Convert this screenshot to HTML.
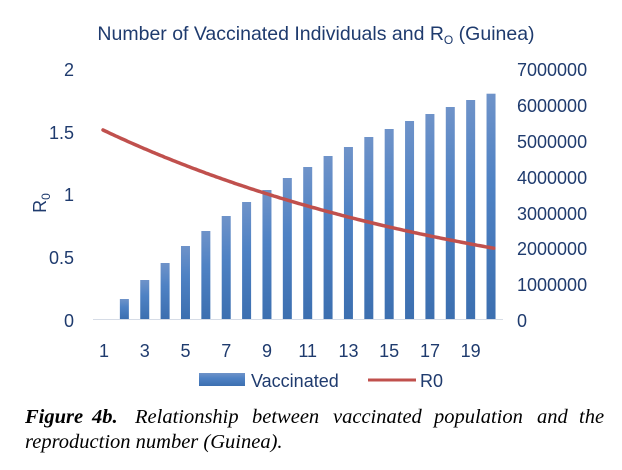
<!DOCTYPE html>
<html><head><meta charset="utf-8"><style>
body{margin:0;background:#fff;width:622px;height:470px;overflow:hidden}
svg{display:block}
.t{font-family:"Liberation Sans",sans-serif;fill:#1f3b6e}
.cap{font-family:"Liberation Serif",serif;font-style:italic;font-size:20.5px;fill:#000}
</style></head><body>
<svg width="622" height="470" viewBox="0 0 622 470">
<defs><linearGradient id="g" x1="0" y1="0" x2="0" y2="1"><stop offset="0" stop-color="#6f93c9"/><stop offset="0.4" stop-color="#4f82c4"/><stop offset="1" stop-color="#3c6fb0"/></linearGradient></defs>
<text class="t" x="316" y="40" font-size="19.5" text-anchor="middle">Number of Vaccinated Individuals and R<tspan font-size="12" dy="4">O</tspan><tspan dy="-4"> (Guinea)</tspan></text>
<g class="t" font-size="18" text-anchor="end">
<text x="74" y="76">2</text><text x="74" y="139">1.5</text><text x="74" y="201">1</text><text x="74" y="264">0.5</text><text x="74" y="327">0</text>
</g>
<g class="t" font-size="18">
<text x="517" y="76">7000000</text><text x="517" y="112">6000000</text><text x="517" y="148">5000000</text><text x="517" y="184">4000000</text><text x="517" y="220">3000000</text><text x="517" y="255">2000000</text><text x="517" y="291">1000000</text><text x="517" y="327">0</text>
</g>
<text class="t" font-size="18" transform="translate(46,203) rotate(-90)" text-anchor="middle">R<tspan font-size="12" dy="4">0</tspan></text>
<line x1="93" y1="319.5" x2="503" y2="319.5" stroke="#d6dce6" stroke-width="1"/>
<g fill="url(#g)" id="bars"></g>
<polyline id="ln" fill="none" stroke="#c0504d" stroke-width="3.5" stroke-linecap="round"/>
<g class="t" font-size="18" text-anchor="middle">
<text x="104" y="357">1</text><text x="144.7" y="357">3</text><text x="185.5" y="357">5</text><text x="226.2" y="357">7</text><text x="267" y="357">9</text><text x="307.7" y="357">11</text><text x="348.5" y="357">13</text><text x="389.2" y="357">15</text><text x="430" y="357">17</text><text x="470.7" y="357">19</text>
</g>
<rect x="199" y="373" width="46" height="13" fill="url(#g)"/>
<text class="t" x="251" y="387" font-size="18">Vaccinated</text>
<line x1="368" y1="380" x2="416" y2="380" stroke="#c0504d" stroke-width="3"/>
<text class="t" x="420" y="387" font-size="18">R0</text>
<g class="cap">
<text x="25" y="423" font-weight="bold">Figure</text>
<text x="92" y="423" font-weight="bold">4b.</text>
<text x="135" y="423">Relationship</text>
<text x="252" y="423">between</text>
<text x="333" y="423">vaccinated</text>
<text x="434" y="423">population</text>
<text x="537" y="423">and</text>
<text x="579" y="423">the</text>
<text x="25" y="448">reproduction number (Guinea).</text>
</g>
</svg>
<script>
var tops=[319,299,280,263,246,231,216,202,190,178,167,156,147,137,129,121,114,107,100,93.7];
var g=document.getElementById('bars'),s='';
for(var i=0;i<20;i++){var cx=104+i*20.37;if(i>0)s+='<rect x="'+(cx-4.5)+'" y="'+tops[i]+'" width="9" height="'+(319-tops[i])+'"/>';}
g.innerHTML=s;
var p=[];for(var i=0;i<=190;i++){var t=i/10;var v=1.506*Math.pow(0.9496,t);p.push((103+t*20.57).toFixed(1)+','+(319-v*125.5).toFixed(1));}
document.getElementById('ln').setAttribute('points',p.join(' '));
</script>
</body></html>
